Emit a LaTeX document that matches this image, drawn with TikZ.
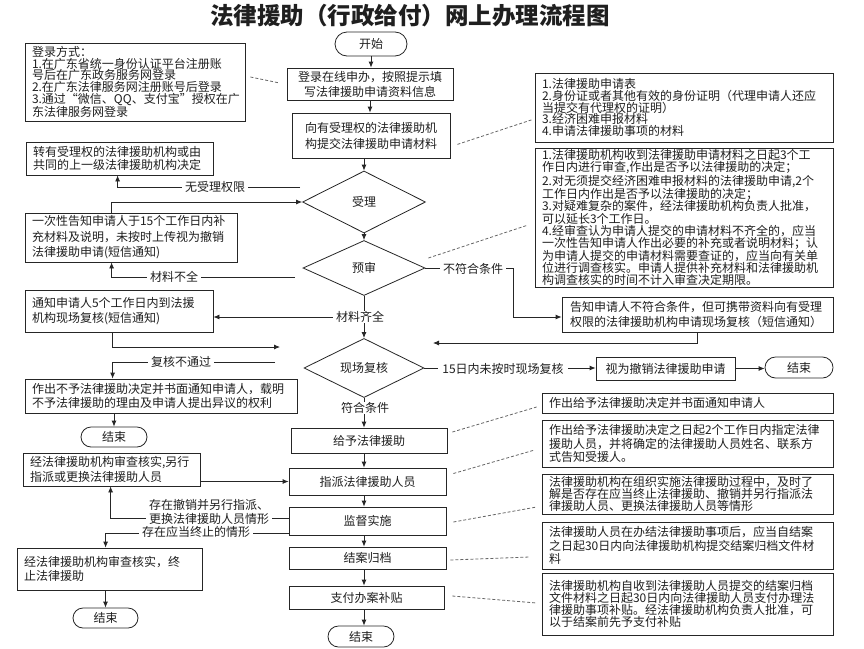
\documentclass[tikz,border=0pt]{standalone}
\usepackage{fontspec}
\setmainfont{Noto Sans CJK SC}
\usetikzlibrary{shapes.geometric,shapes.misc,arrows.meta,calc}
\begin{document}
\begin{tikzpicture}[x=1pt,y=-1pt,
  every node/.style={font=\fontsize{12}{15}\selectfont, text=black!88},
  ld/.style={font=\fontsize{12}{#1}\selectfont},
  box/.style={draw=black!85, line width=0.8pt, inner sep=0pt, align=center},
  lbox/.style={draw=black!85, line width=0.8pt, inner xsep=7pt, inner ysep=0pt, align=left},
  term/.style={rounded rectangle, draw=black!85, line width=0.8pt, inner sep=0pt},
  dec/.style={diamond, draw=black!85, line width=0.8pt, inner sep=0pt},
  lab/.style={fill=white, inner xsep=3pt, inner ysep=0.5pt},
  arr/.style={-{Latex[length=6pt,width=5pt]}, line width=0.8pt, draw=black!85},
  dsh/.style={dash pattern=on 3pt off 2pt, line width=0.8pt, draw=black!60}
]
\useasboundingbox (0,0) rectangle (864,648);
\fill[white] (0,0) rectangle (864,648);

% title
\node[font=\fontsize{23.5}{24}\selectfont\bfseries] (title) at (410,16) {法律援助（行政给付）网上办理流程图};

% main axis
\node[term, minimum width=72, minimum height=24] (start) at (371,44) {开始};
\node[box, minimum width=166, minimum height=32] (b1) at (370,84) {登录在线申办，按照提示填\\写法律援助申请资料信息};
\node[box, ld=16, minimum width=158, minimum height=45] (b2) at (371,135.5) {向有受理权的法律援助机\\构提交法律援助申请材料};
\node[dec, minimum width=123, minimum height=62] (d1) at (364,202) {受理};
\node[dec, minimum width=122, minimum height=55] (d2) at (364,268) {预审};
\node[dec, minimum width=120, minimum height=56] (d3) at (364,368) {现场复核};
\node[box, minimum width=156, minimum height=25] (g1) at (369,440.5) {给予法律援助};
\node[box, minimum width=157, minimum height=27] (g2) at (367.5,481.5) {指派法律援助人员};
\node[box, minimum width=157, minimum height=28] (g3) at (367.5,521) {监督实施};
\node[box, minimum width=157, minimum height=22] (g4) at (367.5,558) {结案归档};
\node[box, minimum width=155, minimum height=23] (g5) at (366.5,597.5) {支付办案补贴};
\node[term, minimum width=66, minimum height=21] (e1) at (361,636.5) {结束};

% left column
\node[lbox, ld=11.7, text width=206pt, minimum height=78] (login) at (135,82) {登录方式：\\1.在广东省统一身份认证平台注册账\\号后在广东政务服务网登录\\2.在广东法律服务网注册账号后登录\\3.通过“微信、QQ、支付宝”授权在广\\东法律服务网登录};
\node[lbox, ld=13.3, text width=173pt, minimum height=33] (zhuan) at (119.5,158.5) {转有受理权的法律援助机构或由\\共同的上一级法律援助机构决定};
\node[lbox, ld=15.5, text width=198pt, minimum height=49] (yici) at (131,237.5) {一次性告知申请人于15个工作日内补\\充材料及说明，未按时上传视为撤销\\法律援助申请(短信通知)};
\node[lbox, ld=15, text width=174pt, minimum height=42] (tongzhi) at (119,311) {通知申请人5个工作日内到法援\\机构现场复核(短信通知)};
\node[lbox, ld=13.3, text width=258pt, minimum height=34] (buyu) at (161,396) {作出不予法律援助决定并书面通知申请人，载明\\不予法律援助的理由及申请人提出异议的权利};
\node[term, minimum width=66, minimum height=20] (e2) at (114,437) {结束};
\node[lbox, ld=14.3, text width=163pt, minimum height=33] (lingxing) at (111.5,469.5) {经法律援助机构审查核实,另行\\指派或更换法律援助人员};
\node[lbox, ld=13.3, text width=171pt, minimum height=42] (zhongzhi) at (109.5,569) {经法律援助机构审查核实，终\\止法律援助};
\node[term, minimum width=65, minimum height=20] (e3) at (105.5,618) {结束};

% right column
\node[lbox, ld=11.3, text width=284pt, minimum height=69] (rA) at (684,107.5) {1.法律援助申请表\\2.身份证或者其他有效的身份证明（代理申请人还应\\当提交有代理权的证明）\\3.经济困难申报材料\\4.申请法律援助事项的材料};
\node[lbox, ld=12.3, text width=284pt, minimum height=139] (rB) at (684,217.5) {1.法律援助机构收到法律援助申请材料之日起3个工\\作日内进行审查,作出是否予以法律援助的决定；\\2.对无须提交经济困难申报材料的法律援助申请,2个\\工作日内作出是否予以法律援助的决定；\\3.对疑难复杂的案件，经法律援助机构负责人批准，\\可以延长3个工作日。\\4.经审查认为申请人提交的申请材料不齐全的，应当\\一次性告知申请人作出必要的补充或者说明材料；认\\为申请人提交的申请材料需要查证的，应当向有关单\\位进行调查核实。申请人提供补充材料和法律援助机\\构调查核实的时间不计入审查决定期限。};
\node[lbox, ld=15.3, inner xsep=8pt, text width=255pt, minimum height=35] (gaozhi) at (697.5,314.5) {告知申请人不符合条件，但可携带资料向有受理\\权限的法律援助机构申请现场复核（短信通知）};
\node[box, minimum width=139, minimum height=23] (shiwei) at (665.5,368.5) {视为撤销法律援助申请};
\node[term, minimum width=68, minimum height=21] (e4) at (799,367.5) {结束};
\node[lbox, text width=277pt, minimum height=20] (rC) at (687.5,403) {作出给予法律援助决定并书面通知申请人};
\node[lbox, ld=13.3, text width=277pt, minimum height=47] (rD) at (687.5,443.5) {作出给予法律援助决定之日起2个工作日内指定法律\\援助人员，并将确定的法律援助人员姓名、联系方\\式告知受援人。};
\node[lbox, ld=11.7, text width=277pt, minimum height=40] (rE) at (687.5,494) {法律援助机构在组织实施法律援助过程中，及时了\\解是否存在应当终止法律援助、撤销并另行指派法\\律援助人员、更换法律援助人员等情形};
\node[lbox, ld=13.3, text width=277pt, minimum height=47] (rF) at (687.5,545.5) {法律援助人员在办结法律援助事项后，应当自结案\\之日起30日内向法律援助机构提交结案归档文件材\\料};
\node[lbox, ld=12.2, text width=277pt, minimum height=62] (rG) at (687.5,604) {法律援助机构自收到法律援助人员提交的结案归档\\文件材料之日起30日内向法律援助人员支付办理法\\律援助事项补贴。经法律援助机构负责人批准，可\\以于结案前先予支付补贴};

% helper coordinates
\coordinate (ax) at (364,0);
\coordinate (j1) at (364,317);
\coordinate (c1) at (300,187);
\coordinate (c2) at (295,277);
\coordinate (c3) at (280,347);
\coordinate (c4) at (275,362);
\coordinate (c5) at (433,343);
\coordinate (k1) at (513,268);

% main arrows
\draw[arr] (start.south) -- (start.south |- b1.north);
\draw[arr] (b1.south) -- (b1.south |- b2.north);
\draw[arr] (b2.south -| ax) -- (d1.north);
\draw[arr] (d1.south) -- (d2.north);
\draw[arr] (d2.south) -- (d3.north);
\draw[arr] (j1) -- (j1 -| tongzhi.east);
\draw[arr] (d3.south) -- (g1.north -| ax);
\draw[arr] (g1.south -| ax) -- (g2.north -| ax);
\draw[arr] (g2.south -| ax) -- (g3.north -| ax);
\draw[arr] (g3.south -| ax) -- (g4.north -| ax);
\draw[arr] (g4.south -| ax) -- (g5.north -| ax);
\draw[arr] (g5.south -| ax) -- (e1.north -| ax);

% left connectors
\draw[arr] (c1) -| ($(zhuan.south west)+(92,0)$);
\draw[arr] ($(yici.north west)+(87,0)$) |- (d1.west);
\draw[arr] (c2) -| ($(yici.south west)+(87,0)$);
\draw[arr] ($(tongzhi.south west)+(88,0)$) |- (c3);
\draw[arr] (c4) -| ($(buyu.north west)+(88,0)$);
\draw[arr] (buyu.south -| e2) -- (e2.north);
\draw[arr] (lingxing.east |- g2.west) -- (g2.west);
\draw[arr] ($(g3.west)+(0,-3)$) -| ($(lingxing.south west)+(88,0)$);
\draw[arr] ($(g3.west)+(0,12)$) -| ($(zhongzhi.north west)+(89,0)$);
\draw[arr] (zhongzhi.south -| e3) -- (e3.north);

% right connectors
\draw[arr] (d2.east) -- (k1) |- ($(gaozhi.west)+(0,2.5)$);
\draw[arr] ($(gaozhi.south west)+(136,0)$) |- (c5);
\draw[arr] (d3.east) -- (d3.east -| shiwei.west);
\draw[arr] (shiwei.east) -- (shiwei.east -| e4.west);

% dashed annotations
\draw[dsh] ($(login.east)+(5,-5)$) -- ($(b1.west)+(-7,-1)$);
\draw[dsh] ($(b2.south east)+(7,-14)$) -- ($(rA.west)+(-2,12)$);
\draw[dsh] ($(d2.east)+(3,-10)$) -- ($(rB.west)+(-8,8)$);
\draw[dsh] ($(g1.east)+(5,-8.5)$) -- ($(rC.west)+(-5,4)$);
\draw[dsh] ($(g2.east)+(7,-8)$) -- ($(rD.west)+(-7,6.5)$);
\draw[dsh] ($(g3.east)+(7,1)$) -- ($(rE.west)+(-5,13)$);
\draw[dsh] ($(g4.east)+(4,2)$) -- ($(rF.west)+(-12,11.5)$);
\draw[dsh] ($(g5.east)+(8,-1.5)$) -- ($(rG.west)+(-5,-1)$);

% labels
\node[lab] (l1) at (360,317) {材料齐全};
\node[lab] (l2) at (365,408) {符合条件};
\node[lab] (l3) at (215,187) {无受理权限};
\node[lab] (l4) at (174,277) {材料不全};
\node[lab] (l5) at (181,362) {复核不通过};
\node[lab] (l6) at (473,269) {不符合条件};
\node[lab, inner xsep=4pt] (l7) at (503,369) {15日内未按时现场复核};
\node[lab] (l9) at (196,532) {存在应当终止的情形};
\node[lab, align=center, ld=14] (l8) at (209,512) {存在撤销并另行指派、\\更换法律援助人员情形};
\end{tikzpicture}
\end{document}
